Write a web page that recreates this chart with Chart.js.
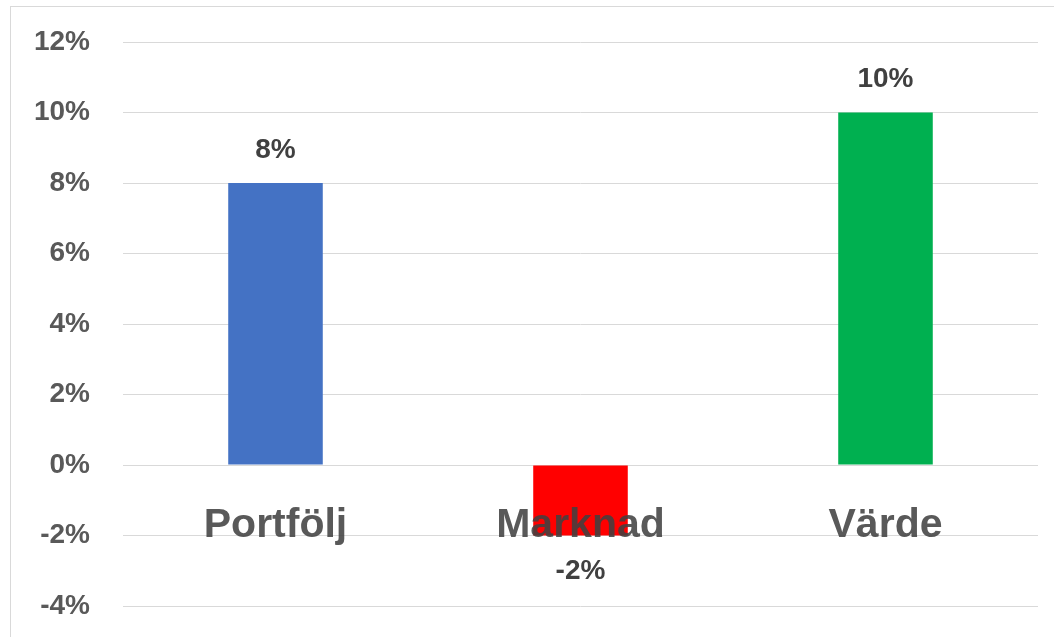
<!DOCTYPE html>
<html lang="sv">
<head>
    <meta charset="UTF-8">
    <title>Avkastning</title>
    <script src="https://cdn.jsdelivr.net/npm/chart.js"></script>
    <style>
        html, body { margin: 0; padding: 0; background: #fff; }
        #wrap { position: relative; width: 1054px; height: 637px; }
    </style>
</head>
<body>
    <div id="wrap"><canvas id="returnsChart"></canvas></div>

    <script>
// Chart data
const categories = ["Portfölj", "Marknad", "Värde"];
const returns = [8, -2, 10];                 // percent
const barColors = ["#4472C4", "#FF0000", "#00B050"];
const yMin = -4, yMax = 12, yStep = 2;

// Light grey frame round the chart (only top/left visible in the picture)
const framePlugin = {
  id: 'frame',
  beforeDraw(chart) {
    const ctx = chart.ctx;
    ctx.save();
    ctx.strokeStyle = '#d9d9d9';
    ctx.lineWidth = 1;
    ctx.strokeRect(10.5, 6.5, 1100, 700);
    ctx.restore();
  }
};

// Value labels above positive bars, below negative ones
const valueLabels = {
  id: 'valueLabels',
  afterDatasetsDraw(chart) {
    const ctx = chart.ctx;
    const meta = chart.getDatasetMeta(0);
    ctx.save();
    ctx.font = 'bold 28px "Liberation Sans", Arial, sans-serif';
    ctx.fillStyle = '#404040';
    ctx.textAlign = 'center';
    ctx.textBaseline = 'middle';
    meta.data.forEach((bar, i) => {
      const v = returns[i];
      const y = v >= 0 ? bar.y - 33 : bar.y + 36;
      ctx.fillText(v + '%', bar.x, y);
    });
    ctx.restore();
  }
};

const ctx = document.getElementById('returnsChart').getContext('2d');
new Chart(ctx, {
  type: 'bar',
  data: {
    labels: categories,
    datasets: [{
      data: returns,
      backgroundColor: barColors,
      borderWidth: 0,
      barPercentage: 0.31,
      categoryPercentage: 1.0
    }]
  },
  options: {
    responsive: true,
    maintainAspectRatio: false,
    animation: false,
    layout: { padding: { left: 0, right: 16, top: 42, bottom: 31 } },
    plugins: {
      legend: { display: false },
      tooltip: { enabled: false }
    },
    scales: {
      x: {
        // category labels sit just under the 0% line, drawn over the bars
        position: { y: 0 },
        grid: { display: false, drawTicks: false },
        border: { display: false },
        ticks: {
          z: 1,
          padding: 36,
          color: 'rgba(64,64,64,0.87)',
          font: { family: '"Liberation Sans", Arial, sans-serif', size: 41, weight: 'bold' }
        }
      },
      y: {
        min: yMin,
        max: yMax,
        afterFit(scale) {
          scale.width = 123;
          scale.paddingTop = 0;
          scale.paddingBottom = 0;
        },
        grid: { color: '#d9d9d9', drawTicks: false },
        border: { display: false },
        ticks: {
          stepSize: yStep,
          padding: 33,
          color: '#595959',
          font: { family: '"Liberation Sans", Arial, sans-serif', size: 28, weight: 'bold' },
          callback: v => v + '%'
        }
      }
    }
  },
  plugins: [framePlugin, valueLabels]
});
    </script>
</body>
</html>
